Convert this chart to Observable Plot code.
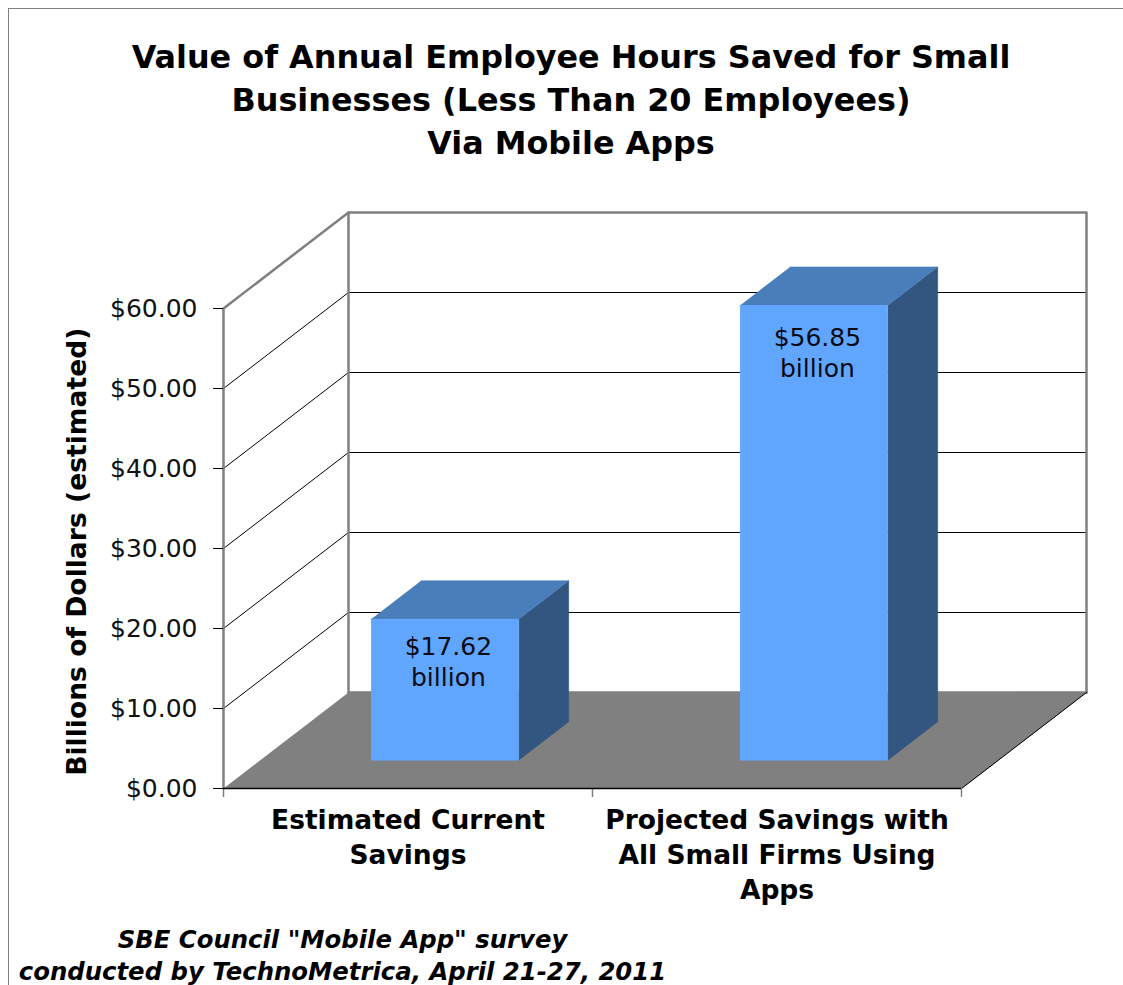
<!DOCTYPE html>
<html>
<head>
<meta charset="utf-8">
<script src="https://cdn.jsdelivr.net/npm/d3@7"></script>
<script src="https://cdn.jsdelivr.net/npm/@observablehq/plot@0.6"></script>
<style>
  html, body { margin: 0; padding: 0; background: #fff; width: 1123px; height: 985px; overflow: hidden; font-family: "DejaVu Sans", sans-serif; color: #000; }
  #frame { position: absolute; left: 8px; top: 8px; right: 0; bottom: 0; border-top: 1.5px solid #808080; border-left: 1.5px solid #808080; z-index: 2; pointer-events: none; }
  #title { box-sizing: border-box; height: 170px; padding-top: 36px; width: 1142px; text-align: center; font-weight: bold; font-size: 31.85px; line-height: 43px; }
  #caption { position: absolute; left: 0; top: 924px; width: 685px; text-align: center; font-weight: bold; font-style: italic; font-size: 24.35px; line-height: 32px; white-space: nowrap; }
  svg { display: block; }
</style>
</head>
<body>
<div id="frame"></div>
<div id="title">Value of Annual Employee Hours Saved for Small<br>Businesses (Less Than 20 Employees)<br>Via Mobile Apps</div>
<div id="chart"></div>
<div id="caption">SBE Council "Mobile App" survey<br>conducted by TechnoMetrica, April 21-27, 2011</div>
<script>
const categories = ["Estimated Current\nSavings", "Projected Savings with\nAll Small Firms Using\nApps"];
const savings = [17.62, 56.85];
const barLabels = ["$17.62\nbillion", "$56.85\nbillion"];
const yTicks = [0, 10, 20, 30, 40, 50, 60];
const xTicks = [0, 1, 2];
const yTitle = "Billions of Dollars (estimated)";

// oblique "3D" projection expressed in data units: full depth of the chart box
const depthX = 125 / 369, depthY = 12, yMax = 60, xMax = categories.length;
const P = (x, y, z = 0) => ({x: x + z * depthX, y: y + z * depthY});
const gray = "#808080";
const face = (pts, fill) => Plot.line(pts, {x: "x", y: "y", fill, stroke: fill, strokeWidth: 0.6});
const path = (pts, stroke, strokeWidth) => Plot.line(pts, {x: "x", y: "y", stroke, strokeWidth});

const zFront = 0.295, zBack = 0.695, barW = 0.4;
const front = "#60A6FF", top_ = "#4A7EBB", side = "#32567F";
const labelDrop = [25, 30];

const gridLines = yTicks.filter(v => v > 0 && v < yMax).map(v =>
  path([P(0, v), P(0, v, 1), P(xMax, v, 1)], "#000", 1));

const bars = savings.flatMap((v, i) => {
  const a = i + 0.5 - barW / 2, b = i + 0.5 + barW / 2;
  return [
    face([P(b, 0, zFront), P(b, 0, zBack), P(b, v, zBack), P(b, v, zFront)], side),
    face([P(a, v, zFront), P(b, v, zFront), P(b, v, zBack), P(a, v, zBack)], top_),
    face([P(a, 0, zFront), P(b, 0, zFront), P(b, v, zFront), P(a, v, zFront)], front),
    Plot.text([barLabels[i]], {
      x: () => P(i + 0.5, v, zFront).x, y: () => P(i + 0.5, v, zFront).y,
      text: d => d, dx: 3.5, dy: labelDrop[i] - 12, lineAnchor: "top", lineHeight: 1.26,
      fontSize: 25, fill: "#0a0a14"
    })
  ];
});

const chart = Plot.plot({
  width: 1123, height: 745,
  marginLeft: 223, marginRight: 37, marginTop: 42, marginBottom: 127,
  style: {fontFamily: "DejaVu Sans", background: "transparent", color: "#000"},
  x: {type: "linear", domain: [0, xMax + depthX], axis: null},
  y: {type: "linear", domain: [0, yMax + depthY], axis: null},
  marks: [
    ...gridLines,
    face([P(0, 0), P(xMax, 0), P(xMax, 0, 1), P(0, 0, 1)], gray),
    path([P(0, yMax), P(0, yMax, 1), P(xMax, yMax, 1), P(xMax, 0, 1)], gray, 2.5),
    path([P(0, 0, 1), P(0, yMax, 1)], gray, 2.5),
    path([P(0, 0, 1), P(xMax, 0, 1)], gray, 2.5),
    path([P(xMax, 0), P(xMax, 0, 1)], "#000", 1),
    Plot.ruleX(xTicks, {x: d => d, y1: -9 / 8, y2: 0, stroke: gray, strokeWidth: 1.5}),
    Plot.ruleX([0], {y1: 0, y2: yMax, stroke: gray, strokeWidth: 2.5}),
    Plot.ruleY([0], {x1: 0, x2: xMax, stroke: "#000", strokeWidth: 1.5}),
    Plot.axisY({
      ticks: yTicks, tickFormat: d3.format("$.2f"), anchor: "left", label: null,
      tickSize: 10, tickPadding: 16, fontSize: 25, stroke: "#000", fill: "#111"
    }),
    Plot.text([yTitle], {x: () => 0, y: () => 29.6, text: d => d, dx: -146, rotate: -90, fontSize: 26.6, fontWeight: "bold", fill: "#000"}),
    Plot.text(categories, {
      x: (d, i) => i + 0.5, y: () => 0, text: d => d, dy: 16, lineAnchor: "top", lineHeight: 1.32,
      fontSize: 26.5, fontWeight: "bold", fill: "#000"
    }),
    ...bars
  ]
});
document.getElementById("chart").appendChild(chart);
</script>
</body>
</html>
